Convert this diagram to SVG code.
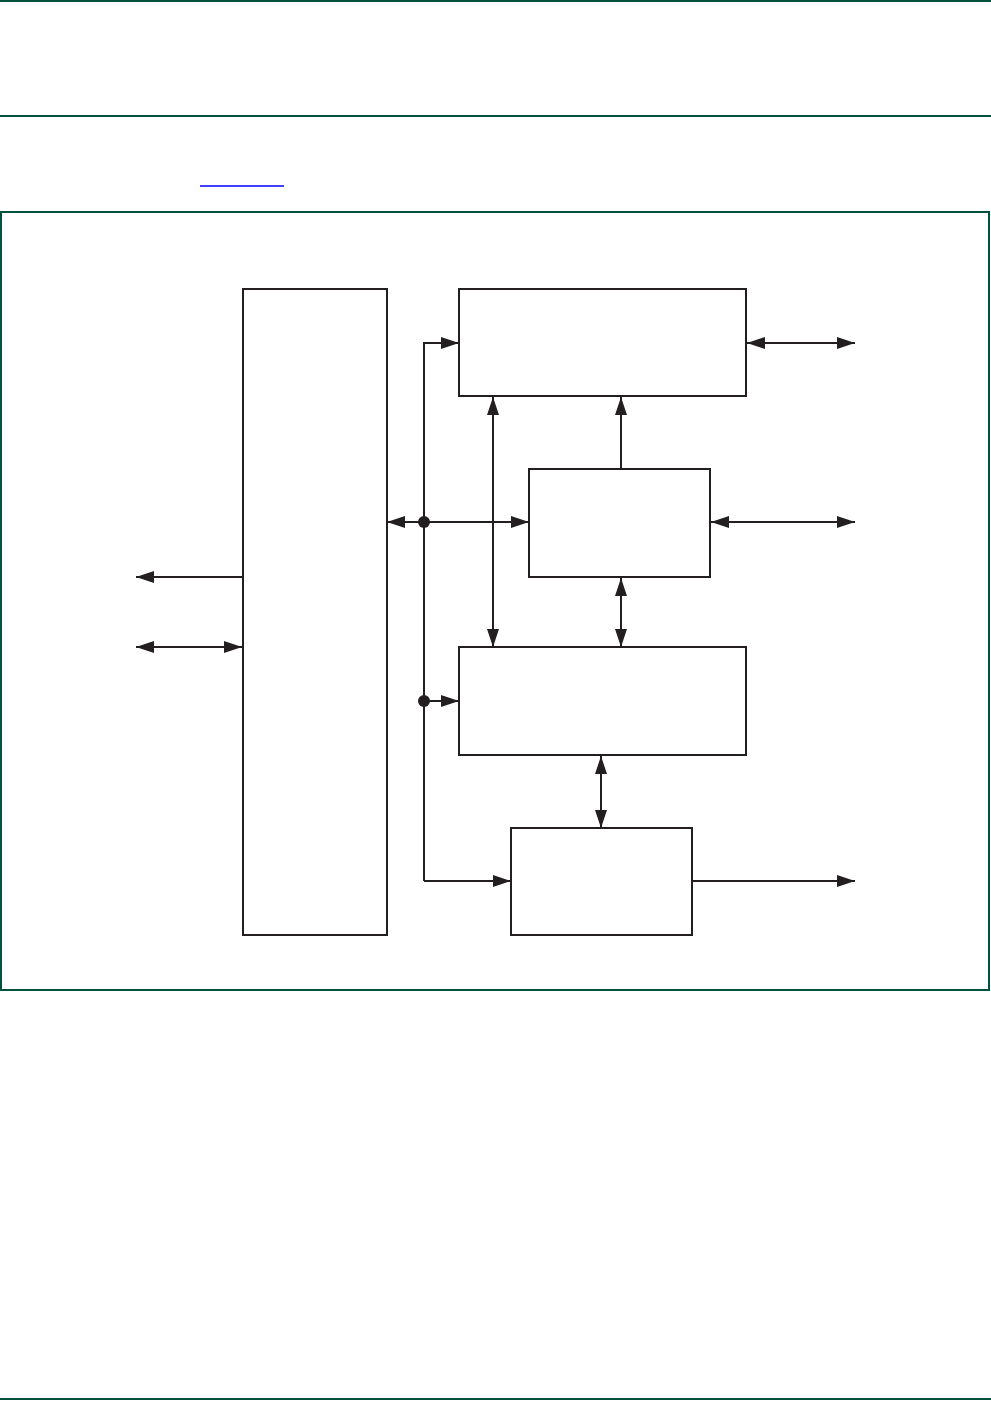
<svg xmlns="http://www.w3.org/2000/svg" width="991" height="1401" viewBox="0 0 991 1401">
<style>
.rule{stroke:#00513f;stroke-width:2;fill:none}
.box{fill:#fff;stroke:#231f20;stroke-width:2}
.c{stroke:#231f20;stroke-width:2;fill:none}
.dot{fill:#231f20}
</style>
<defs>
<marker id="ah" markerUnits="userSpaceOnUse" markerWidth="18" markerHeight="12" refX="18" refY="6" orient="auto-start-reverse">
<path d="M0,0 L18,6 L0,12 z" fill="#231f20"/>
</marker>
</defs>
<rect width="991" height="1401" fill="#fff"/>
<line class="rule" x1="0" y1="1" x2="991" y2="1"/>
<line class="rule" x1="0" y1="116" x2="991" y2="116"/>
<line x1="200" y1="186" x2="284" y2="186" stroke="#0000ff" stroke-width="1.3"/>
<rect class="rule" x="1" y="212" width="988" height="778"/>
<line class="rule" x1="0" y1="1399" x2="991" y2="1399"/>
<g id="nodes">
<g id="left"><rect class="box" x="243" y="289" width="144" height="646"/></g>
<g id="top"><rect class="box" x="459" y="289" width="287" height="107"/></g>
<g id="mid"><rect class="box" x="529" y="469" width="181" height="108"/></g>
<g id="lower"><rect class="box" x="459" y="647" width="287" height="108"/></g>
<g id="bottom"><rect class="box" x="511" y="828" width="181" height="107"/></g>
</g>
<g id="connectors">
<path class="c" d="M424,881 V343 H459" marker-end="url(#ah)"/>
<line class="c" x1="387" y1="522" x2="529" y2="522" marker-start="url(#ah)" marker-end="url(#ah)"/>
<line class="c" x1="424" y1="701" x2="459" y2="701" marker-end="url(#ah)"/>
<line class="c" x1="424" y1="881" x2="511" y2="881" marker-end="url(#ah)"/>
<circle class="dot" cx="424" cy="522" r="6"/>
<circle class="dot" cx="424" cy="701" r="6"/>
<line class="c" x1="493" y1="397" x2="493" y2="647" marker-start="url(#ah)" marker-end="url(#ah)"/>
<line class="c" x1="621" y1="469" x2="621" y2="397" marker-end="url(#ah)"/>
<line class="c" x1="621" y1="578" x2="621" y2="647" marker-start="url(#ah)" marker-end="url(#ah)"/>
<line class="c" x1="601" y1="756" x2="601" y2="828" marker-start="url(#ah)" marker-end="url(#ah)"/>
<line class="c" x1="747" y1="343" x2="855" y2="343" marker-start="url(#ah)" marker-end="url(#ah)"/>
<line class="c" x1="711" y1="522" x2="855" y2="522" marker-start="url(#ah)" marker-end="url(#ah)"/>
<line class="c" x1="692" y1="881" x2="855" y2="881" marker-end="url(#ah)"/>
<line class="c" x1="243" y1="577" x2="136" y2="577" marker-end="url(#ah)"/>
<line class="c" x1="136" y1="647" x2="242" y2="647" marker-start="url(#ah)" marker-end="url(#ah)"/>
</g>
</svg>
